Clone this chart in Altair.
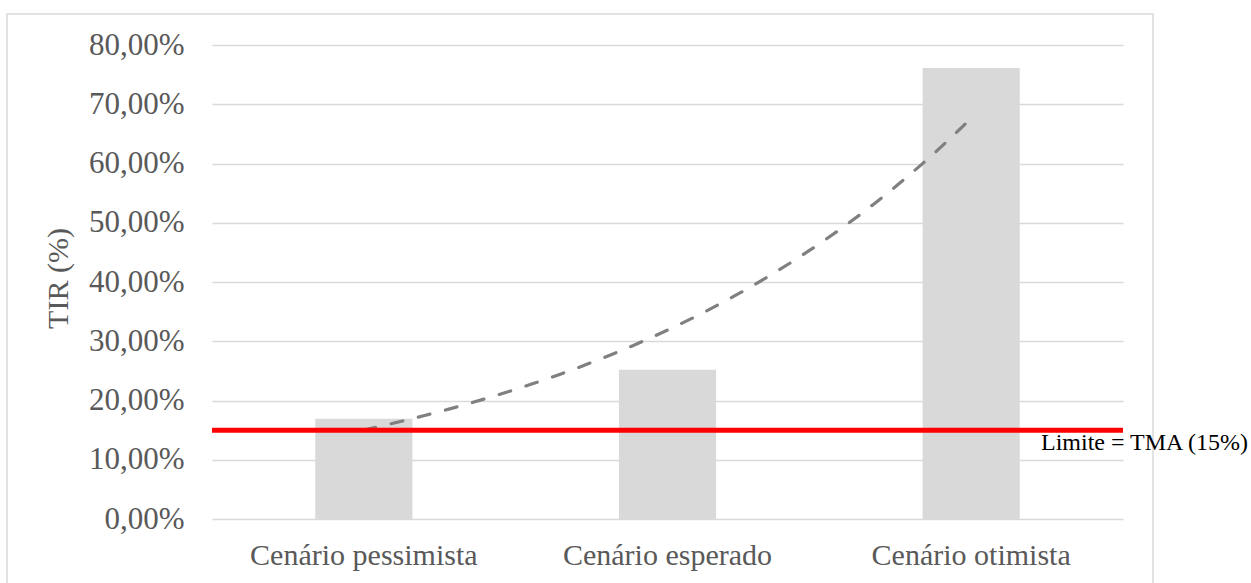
import altair as alt
import pandas as pd

# Scenario data (TIR in percent)
cenarios = ["Cenário pessimista", "Cenário esperado", "Cenário otimista"]
posicao = [1, 2, 3]
tir = [16.9, 25.2, 76.1]

# Minimum attractive rate (TMA) reference line
tma = [15]
tma_rotulo = ["Limite = TMA (15%)"]

y_ticks = [0, 10, 20, 30, 40, 50, 60, 70, 80]

df = pd.DataFrame({"cenario": cenarios, "pos": posicao, "tir": tir})
limite = pd.DataFrame({"tir": tma, "rotulo": tma_rotulo})
moldura = pd.DataFrame({"k": [0]})

W, H = 911, 474
SERIF = "Liberation Serif"
GRAY_TXT = "#595959"
LIGHT = "#d9d9d9"

y_scale = alt.Scale(domain=[0, 80], nice=False)

# Outer chart frame
frame = alt.Chart(moldura).mark_rect(
    fill="transparent", stroke=LIGHT, strokeWidth=1.5, clip=False
).encode(
    x=alt.value(-205), x2=alt.value(941), y=alt.value(-31), y2=alt.value(580)
)

bars = alt.Chart(df).mark_bar(color=LIGHT).encode(
    x=alt.X(
        "cenario:N",
        sort=cenarios,
        scale=alt.Scale(paddingInner=0.68, paddingOuter=0.34),
        axis=alt.Axis(
            title=None, labelAngle=0, labelFont=SERIF, labelFontSize=30,
            labelColor=GRAY_TXT, labelPadding=21, labelLimit=0,
            ticks=False, domain=False,
        ),
    ),
    y=alt.Y(
        "tir:Q",
        scale=y_scale,
        title="TIR (%)",
        axis=alt.Axis(
            values=y_ticks,
            labelExpr="replace(format(datum.value, '.2f'), '.', ',') + '%'",
            labelFont=SERIF, labelFontSize=31, labelColor=GRAY_TXT,
            labelPadding=28, ticks=False, domain=False,
            grid=True, gridColor=LIGHT, gridWidth=1.5,
            titleFont=SERIF, titleFontSize=30,
            titleFontWeight="normal", titleColor=GRAY_TXT,
            titleX=-139, titleY=H / 2 - 4, titleBaseline="bottom",
        ),
    ),
)

# Exponential trend line: least-squares fit of log(TIR) against scenario
# position, sampled along [1, 3] and mapped back with exp()
trend = alt.Chart(df).transform_calculate(
    lt="log(datum.tir)"
).transform_regression(
    "pos", "lt", method="linear", params=True
).transform_calculate(
    xs="sequence(1, 3.0001, 0.04)"
).transform_flatten(
    ["xs"]
).transform_calculate(
    tir="exp(datum.coef[0] + datum.coef[1] * datum.xs)"
).mark_line(
    color="#808080", strokeWidth=3.2, strokeDash=[12, 16], strokeCap="round"
).encode(
    x=alt.X("xs:Q", scale=alt.Scale(domain=[0.5, 3.5], nice=False, zero=False), axis=None),
    y=alt.Y("tir:Q", scale=y_scale, title="TIR (%)"),
)

rule = alt.Chart(limite).mark_rule(color="#ff0000", strokeWidth=5).encode(
    y=alt.Y("tir:Q", scale=y_scale, title="TIR (%)")
)

label = alt.Chart(limite).mark_text(
    align="left", baseline="top", font=SERIF, fontSize=24, color="black", dy=1
).encode(
    x=alt.value(829),
    y=alt.Y("tir:Q", scale=y_scale, title="TIR (%)"),
    text="rotulo:N",
)

chart = alt.layer(frame, bars, trend, rule, label).resolve_scale(
    x="independent"
).properties(
    width=W,
    height=H,
    autosize=alt.AutoSizeParams(type="none"),
    padding={"left": 212, "top": 45, "right": 128, "bottom": 64},
).configure(
    background="white"
).configure_view(
    stroke="transparent", strokeWidth=0
).configure_axis(
    labelFont=SERIF, titleFont=SERIF
)

chart.save("out.html", embed_options={"renderer": "svg", "actions": False})
